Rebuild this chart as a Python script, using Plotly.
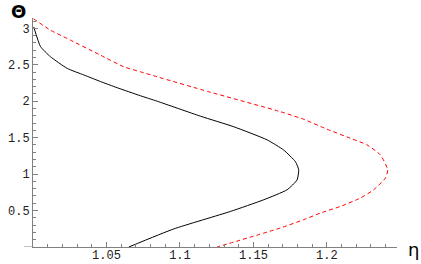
import plotly.graph_objects as go

# Black solid curve (eta, Theta)
black_eta = [1.0005, 1.0051, 1.0119, 1.0233, 1.0346, 1.0459, 1.0573, 1.0731, 1.0845,
             1.1139, 1.1366, 1.1593, 1.1706, 1.1786, 1.1808, 1.1797, 1.1729, 1.1570,
             1.1344, 1.0958, 1.0652]
black_theta = [3.02, 2.75, 2.61, 2.45, 2.36, 2.27, 2.185, 2.075, 2.0,
               1.795, 1.65, 1.47, 1.33, 1.17, 1.06, 0.92, 0.785, 0.648,
               0.488, 0.248, 0.0]

# Red dashed curve (eta, Theta)
red_eta = [1.0004, 1.0119, 1.0233, 1.0459, 1.0618, 1.0731, 1.0845, 1.1196, 1.1684,
           1.1842, 1.2001, 1.2160, 1.2273, 1.2364, 1.2414, 1.2398, 1.2318, 1.2228,
           1.2092, 1.1956, 1.1842, 1.1684, 1.1253]
red_theta = [3.13, 2.974, 2.86, 2.632, 2.472, 2.404, 2.335, 2.13, 1.856,
             1.752, 1.616, 1.492, 1.401, 1.264, 1.059, 0.945, 0.785, 0.672,
             0.557, 0.466, 0.375, 0.261, 0.0]

x_ticks = [1.05, 1.1, 1.15, 1.2]
x_tick_text = ["1.05", "1.1", "1.15", "1.2"]
y_ticks = [0.5, 1, 1.5, 2, 2.5, 3]
y_tick_text = ["0.5", "1", "1.5", "2", "2.5", "3"]

x_range = [1.0, 1.2477]
y_range = [0.0, 3.1416]

fig = go.Figure()
fig.add_trace(go.Scatter(x=black_eta, y=black_theta, mode="lines",
                         line=dict(color="black", width=1, shape="spline", smoothing=0.5),
                         hoverinfo="skip"))
fig.add_trace(go.Scatter(x=red_eta, y=red_theta, mode="lines",
                         line=dict(color="#ff0000", width=1, dash="4px,3px",
                                   shape="spline", smoothing=0.5),
                         hoverinfo="skip"))

axis_color = "#808080"
tick_font = dict(family="Liberation Mono, Courier New, monospace", size=12, color="#222222")

fig.update_xaxes(range=x_range, showgrid=False, zeroline=False, showline=True,
                 linecolor=axis_color, linewidth=1,
                 tickvals=x_ticks, ticktext=x_tick_text, ticks="inside", ticklen=5,
                 tickcolor=axis_color, tickwidth=1, tickfont=tick_font,
                 ticklabelstandoff=-3,
                 minor=dict(dtick=0.01, tick0=1.0, ticks="inside", ticklen=3,
                            tickcolor=axis_color, tickwidth=1, showgrid=False),
                 automargin=False, fixedrange=True)
fig.update_yaxes(range=y_range, showgrid=False, zeroline=False, showline=True,
                 linecolor=axis_color, linewidth=1,
                 tickvals=y_ticks, ticktext=y_tick_text, ticks="inside", ticklen=5,
                 tickcolor=axis_color, tickwidth=1, tickfont=tick_font,
                 minor=dict(dtick=0.1, tick0=0, ticks="inside", ticklen=3,
                            tickcolor=axis_color, tickwidth=1, showgrid=False),
                 automargin=False, fixedrange=True)

# small extension of x axis to the left of the vertical axis
fig.add_shape(type="line", xref="paper", yref="y", x0=-0.025, x1=0, y0=0, y1=0,
              line=dict(color=axis_color, width=1))

fig.add_annotation(text="<b>Θ</b>", xref="paper", yref="paper", x=-0.04, y=1.03,
                   showarrow=False, xanchor="center", yanchor="middle",
                   font=dict(family="DejaVu Sans", size=18, color="black"))
fig.add_annotation(text="η", xref="paper", yref="paper", x=1.044, y=-0.01,
                   showarrow=False, xanchor="center", yanchor="middle",
                   font=dict(family="DejaVu Sans", size=18, color="black"))

fig.update_layout(width=421, height=264, showlegend=False,
                  margin=dict(l=32.5, r=24.3, t=17.8, b=16.6),
                  paper_bgcolor="white", plot_bgcolor="white")

fig.write_html("out.html", config={"displayModeBar": False, "staticPlot": True},
               post_script="document.body.style.margin='0px';document.body.style.overflow='hidden';")
